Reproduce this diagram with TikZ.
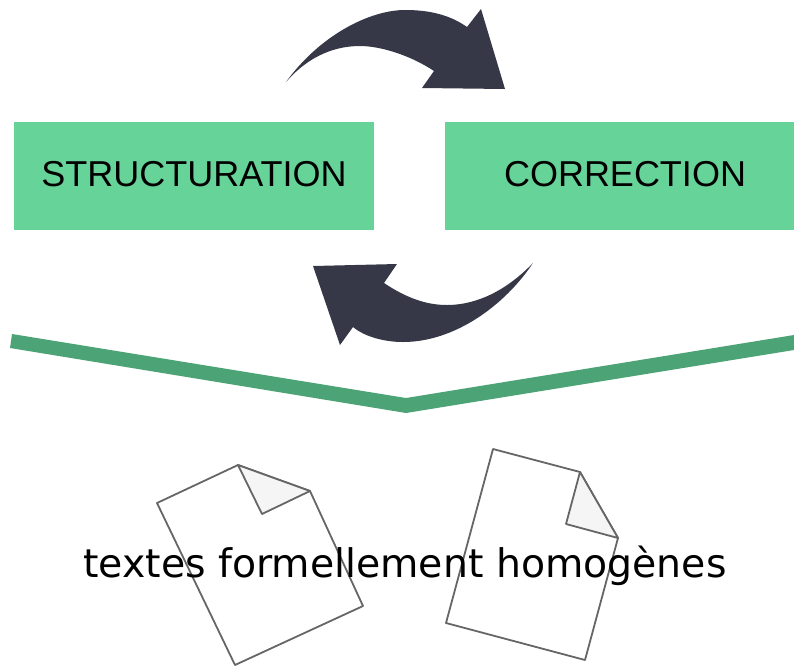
\documentclass[tikz,border=0pt]{standalone}
\usepackage{fontspec}
\setmainfont{Liberation Sans}
\newfontfamily\dejavu{DejaVu Sans}
\usepackage{xcolor}
\usepackage{tikz}
\definecolor{boxgreen}{HTML}{66D398}
\definecolor{bargreen}{HTML}{4CA375}
\definecolor{cyclegray}{HTML}{363847}
\definecolor{pagegray}{HTML}{666666}
\definecolor{foldgray}{HTML}{F5F5F5}

\begin{document}
\begin{tikzpicture}[
  x=1pt, y=-1pt,
  phase/.style={rectangle, fill=boxgreen, inner sep=0pt, text=black,
    font=\fontsize{36}{36}\selectfont, minimum height=108pt},
  cycle/.style={fill=cyclegray},
  bar/.style={fill=bargreen},
  page/.style={draw=pagegray, line width=1.8pt, line join=round, fill=white},
  fold/.style={draw=pagegray, line width=1.8pt, line join=round, fill=foldgray},
  result/.style={inner sep=0pt, text=black, font=\dejavu\fontsize{39.4}{40}\selectfont}
]
  \useasboundingbox (0,0) rectangle (794,665);

  \node[phase, minimum width=360pt] (S) at (194,176) {\raisebox{4.5pt}{STRUCTURATION}};
  \node[phase, minimum width=349pt] (C) at (619.5,176) {\hspace*{11pt}\raisebox{4.5pt}{CORRECTION}};

  % arrows
  \fill[cycle] (286,82) .. controls (320,35) and (370,10) .. (405,10)
    .. controls (430,10) and (450,15) .. (467,27) -- (481,9) -- (505,89)
    -- (422,88) -- (434,71) .. controls (410,55) and (380,46) .. (360,46)
    .. controls (330,46) and (305,60) .. (286,82) -- cycle;
  \fill[cycle] (533,263) .. controls (505,292) and (475,305) .. (447,305)
    .. controls (425,305) and (405,297) .. (384,283) -- (397,264) -- (313,266)
    -- (340,345) -- (353,327) .. controls (365,337) and (385,342) .. (403,342)
    .. controls (455,342) and (505,305) .. (533,263) -- cycle;

  \fill[bar] (12,334) -- (406,398) -- (794,335) -- (794,350) -- (406,413) -- (10,348) -- cycle;

  % documents
  \draw[page] (238,465) -- (310,491) -- (363,606) -- (235,665) -- (157,503) -- cycle;
  \draw[fold] (238,465) -- (310,491) -- (262,514) -- cycle;
  \draw[page] (493,449) -- (580,472) -- (618,538) -- (585,660) -- (446,623) -- cycle;
  \draw[fold] (580,472) -- (618,538) -- (566,524) -- cycle;

  \node[result] (T) at (405,566) {textes formellement homogènes};
\end{tikzpicture}
\end{document}
